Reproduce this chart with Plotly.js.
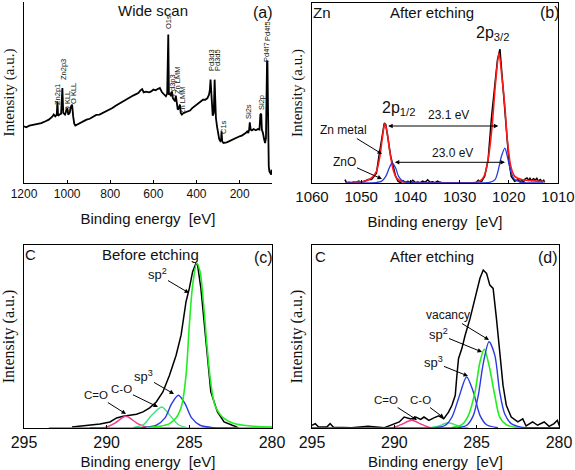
<!DOCTYPE html>
<html><head><meta charset="utf-8">
<script src="https://cdn.plot.ly/plotly-3.0.1.min.js"></script>
<style>html,body{margin:0;padding:0;background:#fff}#chart{width:575px;height:470px}</style>
</head><body><div id="chart"></div>
<script>
// ---------- (a) wide scan ----------
const wideEnergy = [1200,1190,1175,1160,1140,1120,1100,1085,1070,1062,
1055,1048,1045,1042,1035,1028,1022,1018,1010,1003,
999,995,988,982,977,972,967,962,955,940,
925,910,895,880,865,850,835,820,805,790,
775,760,745,730,715,700,685,670,660,652,
645,635,620,610,600,590,580,570,560,550,
542,536,531,528,522,518,514,510,504,500,
496,492,487,482,477,473,468,460,450,440,
430,420,410,400,390,380,370,360,350,342,
338,335,332,329,325,320,316,313,310,305,
300,295,290,286,284,281,275,268,260,250,
240,230,220,210,200,190,180,172,165,160,
156,153,149,143,135,125,115,108,104,100,
97,92,86,82,78,75,73,71,69,67,
65,62,58,54,52];
const wideIntensity = [31.3,30.8,31.7,32,32.8,33.1,34.1,35,36.5,37.8,
36.8,37.8,45.1,37.2,37.8,38.3,52.5,38.7,37.8,40.5,
41.4,37.8,38.7,42.4,43.3,36.8,32.8,31.7,32.2,32.8,
34.1,35,35.5,36.5,37.6,37.8,38.7,39.4,40.5,41.4,
42.7,43.8,44.8,46,46.8,47.9,48.8,49.7,51.2,51.9,
50.1,50.5,50.1,50.6,51.6,51.2,51.9,52.5,50.1,48.8,
47.9,49.4,82,48.8,49.7,47.9,50.6,47,46,45.1,
48.3,44.2,40.5,41.4,43.3,38.7,37.8,38.7,39,39.6,
40,41.4,42.4,43.3,44.2,45.1,46,46,46.8,48.8,
51.6,57.1,48.8,40.5,37.2,38.7,57.1,46,35.9,31.3,
27.6,24.3,23.2,23.9,28.5,23,22.1,22.5,22.5,23,
23.6,24.3,24.9,25.2,25.8,26.2,26.9,27.6,28.5,27.6,
29.5,33.5,29.5,29.1,29.8,29.1,29.8,29.5,37.8,38.3,
29.5,27.6,23.9,22.1,24.9,46,67.6,66.3,46,18.4,
9.2,6.4,5.5,4.6,7.4];
const wideLabels = ["Zn2p1","Zn2p3","O KLL","O KLL","O1s","Pd3p3","Zn LMM","Zn LMM","Pd3d3","Pd3d5","C1s","Si2s","Si2p","Pd4f7","Pd4f5"];

// ---------- (b) Zn 2p after etching ----------
const znEnergy = [1053.3,1053.0,1052.5,1052.0,1051.5,1051.0,1050.5,1050.0,1049.5,1049.0,
1048.5,1047.9,1047.6,1046.9,1046.4,1045.9,1045.3,1045.0,1044.5,1044.0,
1043.5,1043.0,1042.5,1042.0,1041.5,1041.0,1040.5,1040.0,1039.5,1039.0,
1038.5,1038.0,1037.5,1037.0,1036.5,1036.0,1035.5,1035.0,1034.5,1034.0,
1033.7,1030,1026.6,1026.2,1025.8,1025.5,1024.9,1024.2,1023.5,1022.8,
1022.3,1021.8,1021.5,1021.2,1020.8,1020.5,1020.0,1019.5,1018.8,1018.1,
1017.7,1017.4,1017.0,1016.7,1016.3,1016.0,1015.7,1015.4,1015.0,1014.6,
1014.3,1014.0,1013.6,1013.2,1012.9,1012.7];
const znMeasured = [1.9,0.2,0.4,0.2,0.6,0.3,1.0,0.4,0.8,1.2,
2.0,1.9,2.8,5.5,14.8,24,33.3,32.4,24,14.8,
9.3,3.7,0.9,0.3,1.3,0.4,0.9,0.2,1.5,0.3,
0.6,0.2,1.1,0.3,1.8,0.4,0.7,0.2,1.0,0.3,
0.5,null,0.4,1.5,0.8,0.9,3.7,13,37,55.5,
68.5,74.4,64.8,55.5,42.6,31.5,13,3.7,1.0,1.9,
0.6,1.5,0.5,2.2,2.8,1.5,2.6,1.3,2.4,1.7,
2.6,1.1,1.9,0.7,1.5,0.4];
const znMetalEnergy = [1053.0,1052.0,1049.3,1047.9,1046.9,1046.2,1045.7,1045.2,1044.7,1044.2,
1043.5,1042.8,1041.8,1039.8,1035,1030,1026.6,1025.5,1024.9,1024.1,
1023.4,1022.7,1022.0,1021.4,1020.8,1020.3,1019.6,1018.8,1017.4,1015.4,1012.7];
const znMetalFit = [0.1,0.2,0.9,2.8,6.5,14.8,25,33,27.8,17.6,
7.4,2.8,0.9,0.2,0.1,0.1,0.4,1.9,4.6,14.8,
31.5,55.5,72.2,59,42.6,24,9.3,3.7,1.9,1.3,0.7];
const znOxideEnergy = [1053.0,1047.2,1045.9,1045.0,1044.3,1043.7,1043.0,1042.4,1041.5,1039.8,
1030,1023.9,1022.8,1022.2,1021.5,1020.8,1020.3,1019.6,1018.8,1017.4,1013.0];
const znOxideFit = [0,0.2,0.9,3.7,8.3,11.1,8.3,3.7,0.9,0.2,
0.1,0.4,1.9,6.5,14.8,19.4,14.8,6.5,1.9,0.4,0.1];

// ---------- (c) C 1s before etching ----------
const cBeforeEnergy = [292.1,291.6,291.0,290.4,289.8,289.4,289.0,288.6,288.2,287.8,
287.4,287.0,286.6,286.2,285.8,285.5,285.2,285.0,284.8,284.6,
284.5,284.3,284.1,283.9,283.7,283.3,282.9,282.4,282.1];
const cBeforeMeasured = [0.5,0.9,1.5,2.2,3.3,5.5,6.4,6.9,7.5,8.8,
11,14.2,19.7,28.8,39.8,50.7,69,76.3,85.4,90,
89,76.3,56.2,36.1,19.7,8.8,3.3,1.5,0.5];
const cBeforeSp2Energy = [287.6,286.8,286.2,285.76,285.46,285.2,285.0,284.8,284.55,284.35,284.15,283.95,283.71,283.45,283.0,282.3,281.3,280.0];
const cBeforeSp2 = [0.2,0.9,2.4,6,12.4,28.8,56.2,78,90,85.4,69,47,25.2,12.4,6,2.4,1.1,0.5];
const cBeforeSp3Energy = [291.0,287.8,287.0,286.47,286.07,285.66,285.26,284.86,284.35,283.55,282.0];
const cBeforeSp3 = [0,0.2,1.5,5.5,13.3,17.9,13.3,5.5,1.5,0.2,0];
const cBeforeCOEnergy = [288.39,287.78,287.28,286.67,286.17,285.66,285.16];
const cBeforeCO = [0.2,1.8,6.9,11.5,6.9,1.8,0.2];
const cBeforeCdOEnergy = [293.5,291,290.0,289.5,288.83,288.18,287.58,286,280.0];
const cBeforeCdO = [0,0.05,0.5,2.7,6.4,2.7,0.5,0.05,0];

// ---------- (d) C 1s after etching ----------
const cAfterEnergy = [295.0,294.8,294.6,294.1,293.9,293.7,292.6,291.6,290.6,289.7,
289.4,289.0,288.7,288.4,288.2,287.9,287.6,287.3,287.0,286.7,
286.5,286.3,286.2,286.1,285.9,285.7,285.4,285.1,284.8,284.6,
284.4,284.2,284.0,283.8,283.6,283.4,283.2,282.9,282.5,282.2,
282.0,281.6,281.3,280.9,280.6,280.3,280.1,279.95];
const cAfterMeasured = [1.5,2.4,0.5,0.5,2.4,0.4,0.2,0.9,0.2,3.3,
6,5,6,4.7,6,4.2,5.5,6.6,5,8.8,
12.4,17.9,28.8,38,43.4,50.7,59.9,70.8,81.8,86.3,
84.5,78.1,76.3,59.9,39.8,23.4,12.4,6,3.3,5,
1.1,3.3,1.5,3.3,0.9,2.4,4.2,0.5];
const cAfterVacEnergy = [295,287.0,286.1,285.6,285.2,284.9,284.6,284.25,283.9,283.6,283.3,282.9,282.3,281.3,280];
const cAfterVac = [0,0,0.2,1.5,6.9,17.9,35.2,47.1,39.8,19.7,7.8,2.4,0.5,0.2,0.1];
const cAfterSp2Energy = [286.5,285.9,285.5,285.1,284.8,284.54,284.25,283.9,283.6,283.2,282.5,280];
const cAfterSp2 = [0.2,1.8,6.9,19.7,36.1,43,34.3,17.9,6,1.8,0.2,0];
const cAfterSp3Energy = [287.5,286.9,286.5,286.1,285.61,285.2,284.8,284.4,283.7];
const cAfterSp3 = [0.2,1.5,6,16.1,27.9,19.7,6.9,1.8,0.2];
const cAfterCOEnergy = [287.9,287.3,286.72,286.1,285.5];
const cAfterCO = [0,1.1,2.9,1.1,0];
const cAfterCdOEnergy = [295,290.2,289.6,288.95,288.3,287.7,280];
const cAfterCdO = [0,0,1.8,4.2,1.8,0,0];

// ---------- styling ----------
const W = 575, H = 470;
const SANS = "Liberation Sans, Arial, sans-serif";
const SERIF = "Liberation Serif, Times New Roman, serif";
const BLACK = "#000000", RED = "#ff1a1a", BLUE = "#2a3ae0", GREEN = "#22ee22", LGREEN = "#3ee07c", PINK = "#ee3a8c";

function line(x, y, xa, ya, color, width, smooth) {
  return {x: x, y: y, xaxis: xa, yaxis: ya, type: "scatter", mode: "lines",
    line: {color: color, width: width, shape: smooth ? "spline" : "linear", smoothing: 0.8},
    connectgaps: false, hoverinfo: "skip"};
}
const traces = [
  line(wideEnergy, wideIntensity, "x", "y", BLACK, 1.8, false),
  line(znEnergy, znMeasured, "x2", "y2", BLACK, 1.5, false),
  line(znMetalEnergy, znMetalFit, "x2", "y2", RED, 1.6, true),
  line(znOxideEnergy, znOxideFit, "x2", "y2", BLUE, 1.3, true),
  line(cBeforeEnergy, cBeforeMeasured, "x3", "y3", BLACK, 1.5, false),
  line(cBeforeCdOEnergy, cBeforeCdO, "x3", "y3", PINK, 1.4, true),
  line(cBeforeCOEnergy, cBeforeCO, "x3", "y3", LGREEN, 1.4, true),
  line(cBeforeSp3Energy, cBeforeSp3, "x3", "y3", BLUE, 1.4, true),
  line(cBeforeSp2Energy, cBeforeSp2, "x3", "y3", GREEN, 1.6, true),
  line(cAfterEnergy, cAfterMeasured, "x4", "y4", BLACK, 1.5, false),
  line(cAfterCdOEnergy, cAfterCdO, "x4", "y4", PINK, 1.4, true),
  line(cAfterCOEnergy, cAfterCO, "x4", "y4", LGREEN, 1.4, true),
  line(cAfterSp3Energy, cAfterSp3, "x4", "y4", BLUE, 1.4, true),
  line(cAfterSp2Energy, cAfterSp2, "x4", "y4", GREEN, 1.6, true),
  line(cAfterVacEnergy, cAfterVac, "x4", "y4", BLUE, 1.4, true)
];

function xdom(a, b) { return [a / W, b / W]; }
function ydom(top, bottom) { return [1 - bottom / H, 1 - top / H]; }
function xax(dom, range, dtick, fs, anchor, mirror, standoff) {
  return {domain: dom, range: range, anchor: anchor, dtick: dtick, tick0: 0,
    showline: true, linecolor: BLACK, linewidth: 1, mirror: mirror,
    ticks: "inside", ticklen: 3, tickcolor: BLACK, showgrid: false, zeroline: false,
    tickfont: {family: SANS, size: fs, color: "#111"},
    title: {text: "Binding energy \u00a0[eV]", font: {family: SANS, size: 15, color: "#111"}, standoff: standoff},
    automargin: false, fixedrange: true};
}
function yax(dom, fs, anchor, mirror) {
  return {domain: dom, range: [0, 100], anchor: anchor,
    showline: true, linecolor: BLACK, linewidth: 1, mirror: mirror,
    ticks: "", showticklabels: false, showgrid: false, zeroline: false,
    title: {text: "Intensity (a.u.)", font: {family: SERIF, size: fs, color: "#111"}, standoff: 4},
    automargin: false, fixedrange: true};
}

function txt(px, py, text, size, extra) {
  return Object.assign({xref: "paper", yref: "paper", x: px / W, y: 1 - py / H, text: text,
    showarrow: false, xanchor: "center", yanchor: "middle",
    font: {family: SANS, size: size, color: "#111"}}, extra || {});
}
// label at (tx,ty) with an arrow pointing to (hx,hy)
function pointer(tx, ty, hx, hy, text, size) {
  return {xref: "paper", yref: "paper", x: hx / W, y: 1 - hy / H, ax: tx - hx, ay: ty - hy,
    axref: "pixel", ayref: "pixel", text: text, showarrow: true, arrowhead: 2, arrowsize: 0.9,
    arrowwidth: 1, arrowcolor: BLACK, font: {family: SANS, size: size, color: "#111"}};
}
function doubleArrow(x0, x1, y) {
  return {xref: "paper", yref: "paper", x: x1 / W, y: 1 - y / H, ax: x0 - x1, ay: 0,
    axref: "pixel", ayref: "pixel", text: "", showarrow: true, arrowhead: 2, arrowsize: 0.9,
    arrowwidth: 1, arrowcolor: BLACK, arrowside: "end+start"};
}

// small rotated peak labels of panel (a): [px, py]
const wideLabelPos = [[57,95],[63,70],[68,102],[74,94],[169,22],[173,85],[177,80],[183,100],[212,60],[218,60],[223,127],[248,112],[261,103],[267,52],[267,31]];

const annotations = [
  txt(153, 11, "Wide scan", 15), txt(263, 13, "(a)", 16),
  txt(322, 13, "Zn", 15), txt(432, 12, "After etching", 15), txt(550, 13, "(b)", 16),
  txt(30, 255, "C", 15), txt(150, 255, "Before etching", 15), txt(263, 257, "(c)", 16),
  txt(320, 256, "C", 15), txt(432, 256, "After etching", 15), txt(548, 257, "(d)", 16),
  // panel b
  txt(398, 108, "2p<sub>1/2</sub>", 16), txt(492, 33, "2p<sub>3/2</sub>", 16),
  txt(448, 115, "23.1 eV", 12), txt(452, 153, "23.0 eV", 12),
  doubleArrow(386.7, 498.3, 126), doubleArrow(393.3, 505, 162.3),
  pointer(343, 130, 382, 154, "Zn metal", 12),
  pointer(344, 162, 382, 179, "ZnO", 12),
  // panel c
  pointer(157, 274, 189, 293, "sp<sup>2</sup>", 13),
  pointer(143, 376, 174, 394, "sp<sup>3</sup>", 13),
  pointer(121, 389, 158, 407, "C-O", 11.5),
  pointer(96, 395, 126, 414, "C=O", 11.5),
  // panel d
  pointer(448, 315, 489, 340, "vacancy", 12),
  pointer(438, 334, 482, 352, "sp<sup>2</sup>", 13),
  pointer(433, 362, 468, 376, "sp<sup>3</sup>", 13),
  pointer(386, 400, 417, 420, "C=O", 11.5),
  pointer(420, 400, 444, 418, "C-O", 11.5)
];
wideLabels.forEach(function (lab, i) {
  annotations.push(txt(wideLabelPos[i][0], wideLabelPos[i][1], lab, 7.5, {textangle: -90}));
});

const layout = {
  width: W, height: H, margin: {l: 0, r: 0, t: 0, b: 0},
  paper_bgcolor: "#ffffff", plot_bgcolor: "#ffffff", showlegend: false,
  xaxis: xax(xdom(24, 272), [1200, 50], 200, 12, "y", false, 13),
  yaxis: yax(ydom(2, 183), 15, "x", false),
  xaxis2: xax(xdom(312, 558), [1060, 1010], 10, 15, "y2", true, 12),
  yaxis2: yax(ydom(3, 183), 15, "x2", true),
  xaxis3: xax(xdom(24, 272), [295, 280], 5, 16, "y3", true, 7),
  yaxis3: yax(ydom(245, 428), 16, "x3", true),
  xaxis4: xax(xdom(312, 559), [295, 280], 5, 16, "y4", true, 7),
  yaxis4: yax(ydom(245, 428), 16, "x4", true),
  annotations: annotations
};
Plotly.newPlot("chart", traces, layout, {displayModeBar: false, staticPlot: true});
</script>
</body></html>
